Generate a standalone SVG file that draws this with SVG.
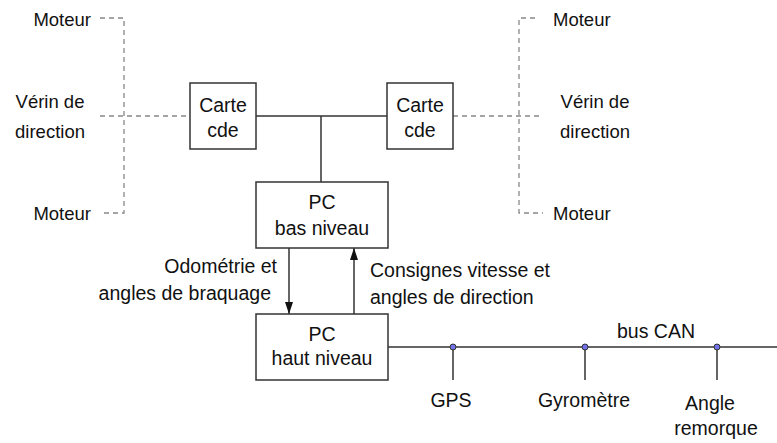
<svg xmlns="http://www.w3.org/2000/svg" width="777" height="443" viewBox="0 0 777 443">
<defs>
<style>
text{font-family:"Liberation Sans",Arial,sans-serif;font-size:19.5px;fill:#111}
.s{font-size:18.5px}
.c{text-anchor:middle}
.r{text-anchor:end}
.box{fill:#fff;stroke:#333;stroke-width:1.5}
.solid{fill:none;stroke:#333;stroke-width:1.5}
.dash{fill:none;stroke:#888;stroke-width:1.3;stroke-dasharray:5 4}
.dot{fill:#7272e8;stroke:#333;stroke-width:1}
</style>
<marker id="ah2" viewBox="0 0 12 8" refX="12" refY="4" markerWidth="13" markerHeight="8" markerUnits="userSpaceOnUse" orient="auto">
<path d="M0,0 L12,4 L0,8 Z" fill="#111"/>
</marker>
</defs>
<g id="connectors">
<path class="dash" d="M100,18 H124 V213 H100"/>
<path class="dash" d="M100,116 H190"/>
<path class="dash" d="M535,18 H519 V213 H543"/>
<path class="dash" d="M453,116 H542"/>
<path class="solid" d="M256,116 H387"/>
<path class="solid" d="M321,116 V182"/>
<path class="solid" d="M289,248 V314" marker-end="url(#ah2)"/>
<path class="solid" d="M354,314 V248" marker-end="url(#ah2)"/>
<path class="solid" d="M388,347 H777"/>
<path class="solid" d="M453,347 V380 M585,347 V380 M717,347 V380"/>
<circle class="dot" cx="453" cy="347" r="3"/>
<circle class="dot" cx="585" cy="347" r="3"/>
<circle class="dot" cx="717" cy="347" r="3"/>
</g>
<g id="carte-left">
<rect class="box" x="190" y="83" width="66" height="66"/>
<text class="c" x="223" y="112">Carte</text>
<text class="c" x="223" y="137">cde</text>
</g>
<g id="carte-right">
<rect class="box" x="387" y="83" width="66" height="66"/>
<text class="c" x="420" y="112">Carte</text>
<text class="c" x="420" y="137">cde</text>
</g>
<g id="pc-bas">
<rect class="box" x="256" y="182" width="132" height="66"/>
<text class="c" x="322" y="209">PC</text>
<text class="c" x="322" y="235">bas niveau</text>
</g>
<g id="pc-haut">
<rect class="box" x="256" y="314" width="132" height="66"/>
<text class="c" x="322" y="341">PC</text>
<text class="c" x="322" y="365">haut niveau</text>
</g>
<g id="labels">
<text class="r s" x="91" y="26">Moteur</text>
<text class="r s" x="91" y="220">Moteur</text>
<text class="c s" x="50" y="108">Vérin de</text>
<text class="c s" x="50" y="138">direction</text>
<text class="s" x="553" y="26">Moteur</text>
<text class="s" x="553" y="220">Moteur</text>
<text class="c s" x="595" y="108">Vérin de</text>
<text class="c s" x="595" y="138">direction</text>
<text class="r" x="277" y="273">Odométrie et</text>
<text class="r" x="271" y="300">angles de braquage</text>
<text x="370" y="277">Consignes vitesse et</text>
<text x="370" y="304">angles de direction</text>
<text class="c" x="656" y="338">bus CAN</text>
<text class="c" x="451" y="407">GPS</text>
<text class="c" x="584" y="407">Gyromètre</text>
<text class="c" x="710" y="410">Angle</text>
<text class="c" x="716" y="435">remorque</text>
</g>
</svg>
